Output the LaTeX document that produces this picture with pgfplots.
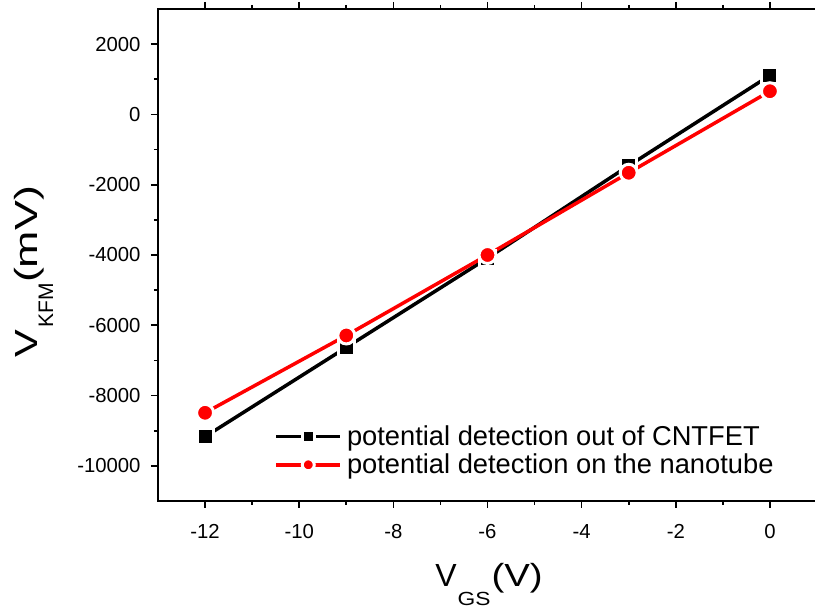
\documentclass[border=0pt]{standalone}
\usepackage{graphicx}
\usepackage{pgfplots}
\pgfplotsset{compat=1.18}
\usepackage{fontspec}
\setmainfont{Liberation Sans}
\begin{document}
\begin{tikzpicture}
\useasboundingbox (-158pt,-111pt) rectangle (657pt,501pt);
\clip (-158pt,-111pt) rectangle (657pt,501pt);
\begin{axis}[
  at={(0pt,0pt)}, anchor=south west,
  scale only axis, width=659pt, height=492pt,
  xmin=-13, xmax=1, ymin=-11000, ymax=3000,
  xtick={-12,-10,-8,-6,-4,-2,0}, minor x tick num=1,
  ytick={-10000,-8000,-6000,-4000,-2000,0,2000}, minor y tick num=1,
  tick align=outside, major tick length=7pt, minor tick length=4pt,
  every tick/.style={line width=1.6pt, black},
  axis line style={line width=2pt},
  /pgf/number format/assume math mode=true,
  /pgf/number format/1000 sep={},
  scaled y ticks=false,
  ticklabel style={font=\fontsize{20.3}{22}\selectfont},
  xticklabel style={yshift=-13pt},
  yticklabel style={xshift=-7pt},
  xlabel={V\kern1pt\raisebox{-19pt}{\scalebox{1.2}[1]{\fontsize{19}{19}\selectfont GS}}\kern1pt\scalebox{1.2}[1]{(V)}},
  ylabel={\scalebox{1.3}[1]{V}\kern2pt\raisebox{-16pt}{\fontsize{21}{21}\selectfont KFM}\scalebox{1.4}[1]{(mV)}},
  label style={font=\fontsize{32}{34}\selectfont},
  xlabel style={at={(axis description cs:0.5023,-0.1748)}, anchor=base},
  ylabel style={at={(axis description cs:-0.1836,0.4665)}, anchor=base},
  legend style={draw=none, fill=none, at={(axis cs:-10.55,-10364)}, anchor=south west,
    font=\fontsize{27.3}{30}\selectfont, inner sep=1pt, row sep=3pt,
    /tikz/every odd column/.append style={column sep=3pt}},
  legend cell align=left,
  legend image code/.code={%
    \draw[#1, mark size=6pt, mark repeat=2, mark phase=2] plot coordinates {(0pt,0pt) (32pt,0pt) (64pt,0pt)};},
]
\addplot[black, line width=3.5pt, mark=square*, mark size=8pt,
  mark options={fill=black, draw=white, line width=3pt}]
  coordinates {(-12,-9170) (-9,-6630) (-6,-4090) (-3,-1460) (0,1110)};
\addlegendentry{potential detection out of CNTFET}
\addplot[red, line width=3.5pt, mark=*, mark size=8.5pt,
  mark options={fill=red, draw=white, line width=3pt}]
  coordinates {(-12,-8490) (-9,-6290) (-6,-4000) (-3,-1660) (0,660)};
\addlegendentry{potential detection on the nanotube}
\end{axis}
\end{tikzpicture}
\end{document}
